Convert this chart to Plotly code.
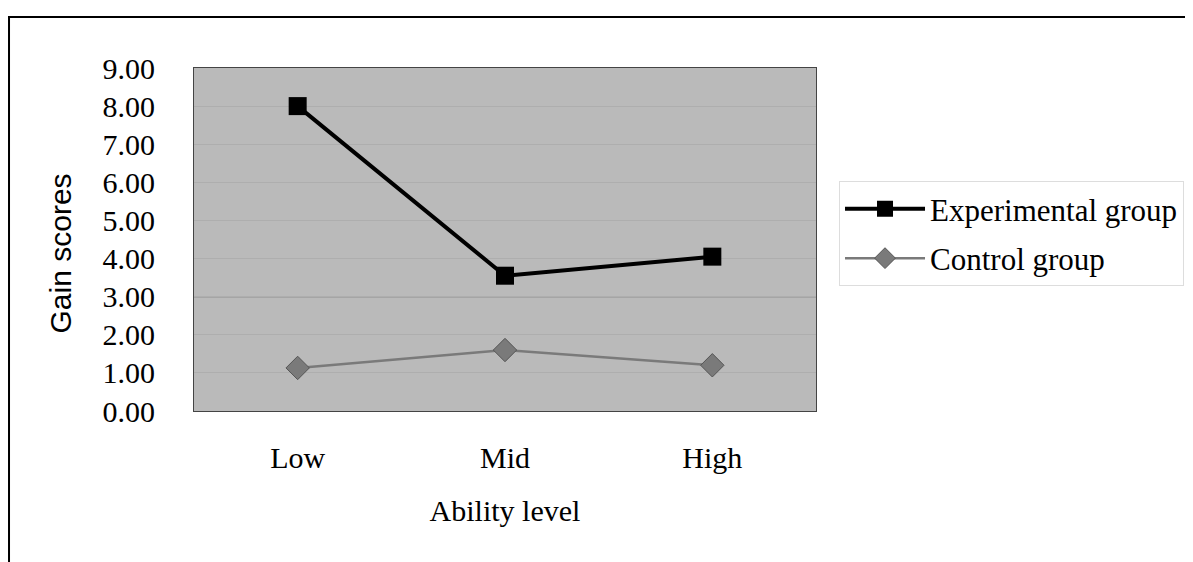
import plotly.graph_objects as go

categories = ["Low", "Mid", "High"]
experimental = [8.00, 3.55, 4.05]
control = [1.13, 1.60, 1.20]
y_ticks = [0, 1, 2, 3, 4, 5, 6, 7, 8, 9]
y_tick_labels = ["%.2f" % v for v in y_ticks]
ref_line = 3.0

serif = "Liberation Serif, Times New Roman, serif"
sans = "Liberation Sans, Arial, sans-serif"

fig = go.Figure()
fig.add_trace(go.Scatter(
    x=categories, y=experimental, name="Experimental group",
    mode="lines+markers", legendgroup="exp",
    line=dict(color="black", width=4),
    marker=dict(symbol="square", size=18, color="black"),
))
fig.add_trace(go.Scatter(
    x=categories, y=control, name="Control group",
    mode="lines+markers", legendgroup="ctl",
    line=dict(color="#7a7a7a", width=2.5),
    marker=dict(symbol="diamond", size=18, color="#7a7a7a",
                line=dict(color="#555555", width=1)),
))

fig.add_hline(y=ref_line, line=dict(color="#6a6a6a", width=1.2), layer="below")

fig.add_shape(type="rect", xref="paper", yref="paper",
              x0=-0.2974, x1=1.8, y0=-1.0, y1=1.149,
              line=dict(color="black", width=2), fillcolor="rgba(0,0,0,0)")

fig.add_annotation(
    text="Gain scores", xref="paper", yref="paper", x=0, y=0.5,
    xanchor="center", yanchor="middle", xshift=-134, yshift=-14,
    textangle=-90, showarrow=False,
    font=dict(family=sans, size=30, color="black"),
)

fig.update_layout(
    width=1193, height=562,
    margin=dict(l=186, r=385, t=60, b=159),
    paper_bgcolor="white",
    plot_bgcolor="#bababa",
    showlegend=True,
    legend=dict(
        x=1.037, y=0.67, xanchor="left", yanchor="top",
        font=dict(family=serif, size=31, color="black"),
        bgcolor="white", bordercolor="#dddddd", borderwidth=1,
        itemwidth=80, traceorder="grouped", tracegroupgap=6,
    ),
    xaxis=dict(
        type="category",
        range=[-0.5, 2.5],
        showgrid=False,
        tickfont=dict(family=serif, size=30, color="black"),
        ticks="", ticklabelstandoff=20,
        showline=True, linecolor="#444444", linewidth=1, mirror=True,
        title=dict(text="Ability level", font=dict(family=serif, size=30, color="black"),
                   standoff=26),
    ),
    yaxis=dict(
        range=[0, 9],
        tickvals=y_ticks, ticktext=y_tick_labels,
        tickfont=dict(family=serif, size=30, color="black"),
        ticks="", ticklabelstandoff=32,
        showgrid=True, gridcolor="#aeaeae", gridwidth=1,
        zeroline=False,
        showline=True, linecolor="#444444", linewidth=1, mirror=True,
    ),
)

fig.write_html("out.html")
